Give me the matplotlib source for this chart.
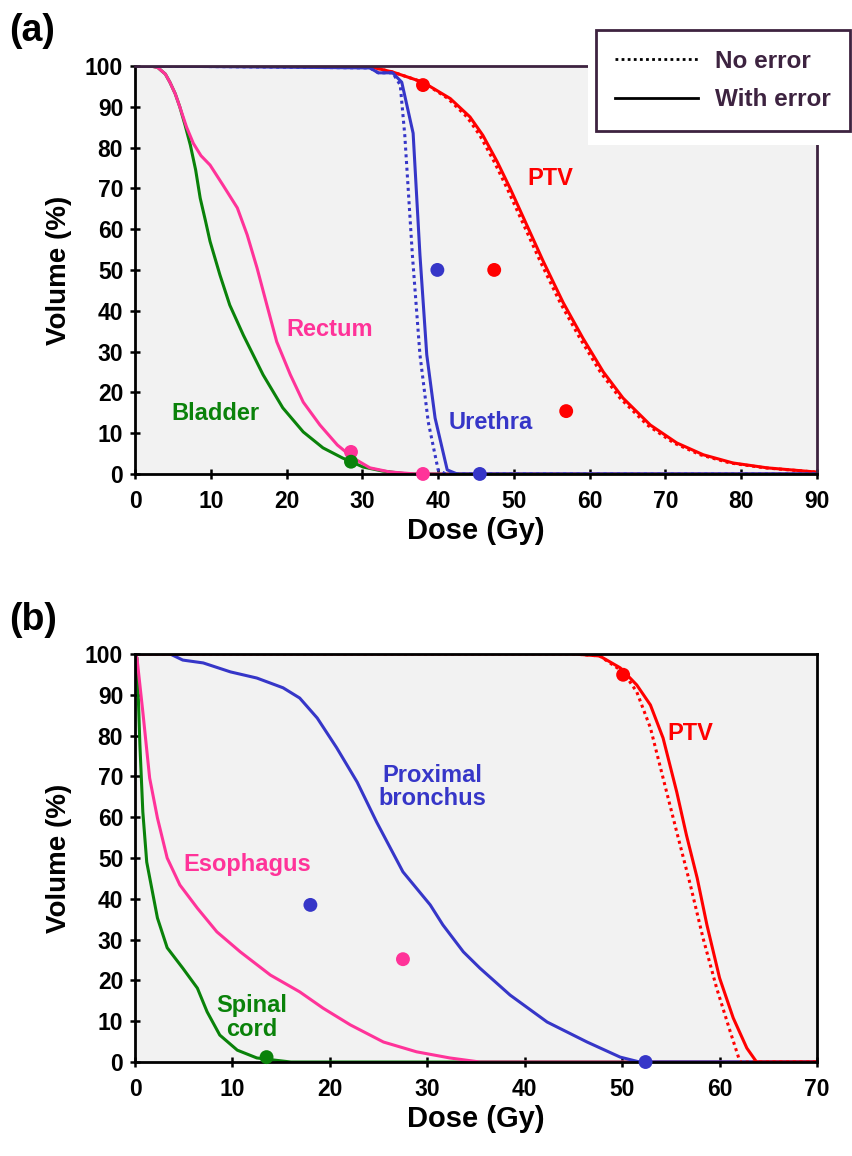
import numpy as np
import matplotlib.pyplot as plt
from matplotlib.lines import Line2D
from matplotlib.patches import Rectangle

plt.rcParams['font.family'] = ['Liberation Sans', 'DejaVu Sans']
plt.rcParams['font.weight'] = 'bold'

# colours
RED = '#ff0000'
BLUE = '#3636c8'
PINK = '#ff3399'
GREEN = '#0a820a'
PURPLE = '#3d2340'

# ---------- panel (a): prostate ----------
bladder_d = [0, 2.0, 3.0, 4.0, 4.6, 5.3, 5.9, 6.6, 7.3, 8.0, 8.6, 9.3, 9.9, 11.2, 12.5, 14.3, 16.9, 19.5, 22.2, 24.8, 27.4, 30.1, 32.7, 36, 90]
bladder_v = [100, 100, 99.6, 98, 96, 93.2, 90, 85.5, 80.6, 74.5, 67.6, 62, 57, 48.8, 41.4, 34, 24.3, 16.2, 10.3, 6.4, 3.9, 1.7, 0.7, 0, 0]

rectum_d = [0, 2.0, 3.0, 4.0, 4.6, 5.3, 5.9, 6.8, 7.7, 8.7, 9.9, 11.6, 13.5, 14.8, 16.1, 17.4, 18.7, 20.5, 22.2, 24.4, 26.7, 28.8, 31.0, 33.6, 37, 90]
rectum_v = [100, 100, 99.6, 98, 96, 93.2, 90, 85, 81, 78, 75.7, 70.8, 65.2, 58.6, 50.5, 41.4, 32.4, 24.3, 17.6, 12, 7.1, 3.9, 1.5, 0.5, 0, 0]

urethra_err_d = [0, 31.0, 32.1, 34.0, 35.2, 36.7, 37.6, 38.5, 39.6, 41.2, 42.5, 90]
urethra_err_v = [100, 99.5, 98.3, 98.3, 96, 83.5, 53.7, 29.2, 13.7, 1, 0, 0]
urethra_noerr_d = [0, 31.0, 32.1, 34.0, 35.0, 35.6, 36.6, 37.6, 38.7, 40.0, 41.0, 90]
urethra_noerr_v = [100, 99.5, 98.3, 98.3, 95.3, 83, 53.7, 29.2, 12.7, 1, 0, 0]

ptv_a_err_d = [0, 28, 31, 34, 38, 41.6, 44.2, 45.9, 47.8, 49.5, 51.7, 53.9, 56.5, 59.1, 61.8, 64.4, 68.0, 71.5, 75, 78.9, 83.4, 89.7, 90]
ptv_a_err_v = [100, 100, 99.8, 98.5, 96, 92, 87.5, 83, 76.5, 70, 61, 52, 42, 33.3, 25, 18.6, 12, 7.6, 4.7, 2.7, 1.5, 0.5, 0.4]
ptv_a_noerr_d = [0, 28, 31, 34, 38, 41.3, 43.8, 45.5, 47.4, 49.1, 51.3, 53.5, 56.1, 58.7, 61.4, 64.0, 67.6, 71.1, 74.6, 78.5, 83.1, 89.5, 90]
ptv_a_noerr_v = ptv_a_err_v

pts_a_d = [38, 47.4, 56.9, 39.9, 45.5, 28.5, 28.5, 38]
pts_a_v = [95.3, 50, 15.4, 50, 0, 5.4, 3, 0]
pts_a_c = [RED, RED, RED, BLUE, BLUE, PINK, GREEN, PINK]

# ---------- panel (b): lung ----------
cord_d = [0, 0.2, 0.5, 0.8, 1.2, 2.3, 3.3, 4.9, 6.4, 7.4, 8.7, 10.5, 12.5, 14.2, 16, 70]
cord_v = [100, 99, 77.7, 61.3, 49, 35.3, 28, 23, 18.1, 12.3, 6.6, 2.9, 1, 0.5, 0, 0]

esoph_d = [0, 0.2, 0.8, 1.5, 2.3, 3.3, 4.6, 6.4, 8.4, 10.8, 13.9, 16.9, 19.3, 22.1, 25.5, 28.9, 32.3, 35.4, 70]
esoph_v = [100, 99, 85.8, 69.6, 59.8, 50, 43.4, 37.7, 31.9, 27, 21.3, 17.2, 13.2, 9.1, 4.9, 2.5, 1, 0, 0]

bronch_d = [0, 3.6, 4.9, 7.0, 9.8, 12.5, 15.2, 16.9, 18.7, 20.7, 22.8, 24.8, 27.5, 30.3, 31.6, 33.7, 35.4, 38.5, 42.3, 46.4, 49.8, 51.8, 70]
bronch_v = [100, 100, 98.5, 97.8, 95.6, 94.1, 91.7, 89.2, 84.3, 77, 68.6, 58.8, 46.6, 38.5, 33.6, 27, 23, 16.4, 9.8, 4.9, 1.2, 0, 0]

ptv_b_err_d = [0, 45, 47.7, 49.8, 51.5, 52.9, 54.2, 55.6, 56.6, 57.7, 58.7, 60.0, 61.4, 62.8, 63.8, 70]
ptv_b_err_v = [100, 100, 99.5, 96.6, 92.4, 87.5, 79.4, 66.2, 55.6, 45.1, 33.6, 20.6, 10.8, 3.4, 0, 0]
ptv_b_noerr_d = [0, 45, 47.7, 50.1, 51.5, 52.9, 54.2, 55.6, 57.0, 58.3, 59.7, 61.1, 62.1, 70]
ptv_b_noerr_v = [100, 100, 99.5, 95.6, 90.7, 81.9, 69.6, 56.4, 43.4, 30.4, 18.1, 7.4, 0, 0]

pts_b_d = [50.1, 18.0, 27.5, 13.5, 52.4]
pts_b_v = [94.9, 38.5, 25.2, 1.2, 0]
pts_b_c = [RED, BLUE, PINK, GREEN, BLUE]

fig = plt.figure(figsize=(8.53, 11.56), dpi=100)
ax1 = fig.add_axes([0.1583, 0.590, 0.7995, 0.353])
ax2 = fig.add_axes([0.1583, 0.0813, 0.7995, 0.353])

lw = 2.2
dots = (0, (1, 1.2))
# panel (a)
ax1.plot(bladder_d, bladder_v, color=GREEN, lw=lw)
ax1.plot(rectum_d, rectum_v, color=PINK, lw=lw)
ax1.plot(ptv_a_noerr_d, ptv_a_noerr_v, color=RED, lw=lw, ls=dots)
ax1.plot(ptv_a_err_d, ptv_a_err_v, color=RED, lw=lw)
ax1.plot(urethra_noerr_d, urethra_noerr_v, color=BLUE, lw=lw, ls=dots)
ax1.plot(urethra_err_d, urethra_err_v, color=BLUE, lw=lw)
ax1.plot([42.5, 90], [0, 0], color=GREEN, lw=lw)
ax1.scatter(pts_a_d, pts_a_v, c=pts_a_c, s=100, zorder=5, clip_on=False, linewidths=0)

fs_lab = 17
ax1.text(54.8, 72.5, 'PTV', color=RED, fontsize=fs_lab, ha='center', va='center')
ax1.text(25.7, 35.3, 'Rectum', color=PINK, fontsize=fs_lab, ha='center', va='center')
ax1.text(10.6, 14.7, 'Bladder', color=GREEN, fontsize=fs_lab, ha='center', va='center')
ax1.text(47, 12.5, 'Urethra', color=BLUE, fontsize=fs_lab, ha='center', va='center')

# panel (b)
ax2.plot(cord_d, cord_v, color=GREEN, lw=lw)
ax2.plot(esoph_d, esoph_v, color=PINK, lw=lw)
ax2.plot(bronch_d, bronch_v, color=BLUE, lw=lw)
ax2.plot(ptv_b_noerr_d, ptv_b_noerr_v, color=RED, lw=lw, ls=dots)
ax2.plot(ptv_b_err_d, ptv_b_err_v, color=RED, lw=lw)
ax2.scatter(pts_b_d, pts_b_v, c=pts_b_c, s=100, zorder=5, clip_on=False, linewidths=0)

ax2.text(57, 80.6, 'PTV', color=RED, fontsize=fs_lab, ha='center', va='center')
ax2.text(30.5, 67.4, 'Proximal\nbronchus', color=BLUE, fontsize=fs_lab, ha='center', va='center',
         linespacing=1.05)
ax2.text(11.5, 48.3, 'Esophagus', color=PINK, fontsize=fs_lab, ha='center', va='center')
ax2.text(12, 11, 'Spinal\ncord', color=GREEN, fontsize=fs_lab, ha='center', va='center',
         linespacing=1.05)

for ax, xmax in [(ax1, 90), (ax2, 70)]:
    ax.set_xlim(0, xmax)
    ax.set_ylim(0, 100)
    ax.set_facecolor('#f2f2f2')
    ax.set_xticks(np.arange(0, xmax + 1, 10))
    ax.set_yticks(np.arange(0, 101, 10))
    ax.tick_params(direction='inout', length=7, width=1.8, labelsize=16.5)
    ax.tick_params(axis='x', pad=8)
    ax.tick_params(axis='y', pad=5)
    for lab in ax.get_xticklabels() + ax.get_yticklabels():
        lab.set_fontweight('bold')
    for s in ax.spines.values():
        s.set_linewidth(2)
    ax.set_xlabel('Dose (Gy)', fontsize=21, fontweight='bold', labelpad=3)
    ax.set_ylabel('Volume (%)', fontsize=20, fontweight='bold', labelpad=9)

ax1.spines['top'].set_color(PURPLE)
ax1.spines['right'].set_color(PURPLE)

fig.text(0.011, 0.989, '(a)', fontsize=27, fontweight='bold', va='top')
fig.text(0.011, 0.479, '(b)', fontsize=27, fontweight='bold', va='top')

# white patch behind the legend, covering the corner of panel (a)
fig.add_artist(Rectangle((0.689, 0.8746), 0.311, 0.104, transform=fig.transFigure,
                         facecolor='white', edgecolor='none', zorder=3))

handles = [Line2D([], [], color='black', lw=2, ls=dots),
           Line2D([], [], color='black', lw=2)]
leg = fig.legend(handles, ['No error', 'With error'], loc='upper right',
                 bbox_to_anchor=(0.9965, 0.974), borderaxespad=0, fontsize=17.5,
                 frameon=True, fancybox=False, handlelength=3.4, labelspacing=0.65,
                 borderpad=0.8, handletextpad=0.7, labelcolor=PURPLE,
                 framealpha=1)
leg.set_zorder(5)
leg.get_frame().set_edgecolor(PURPLE)
leg.get_frame().set_linewidth(2)
for t in leg.get_texts():
    t.set_fontweight('bold')

fig.savefig('out.png', dpi=100)
